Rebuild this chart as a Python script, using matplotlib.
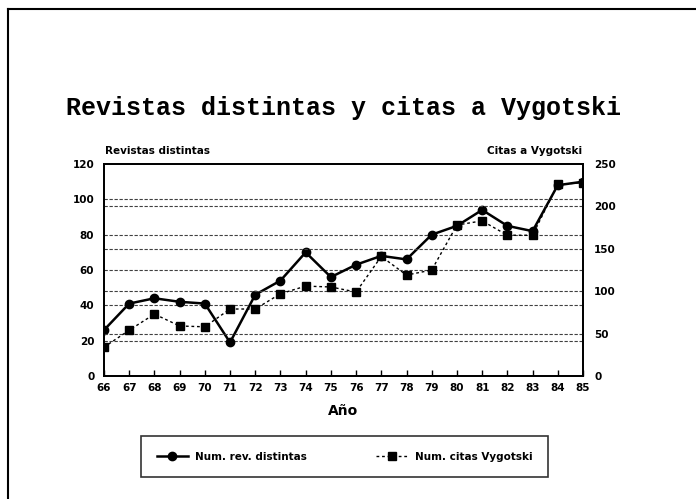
import matplotlib
matplotlib.use('Agg')
import matplotlib.pyplot as plt
from matplotlib.lines import Line2D

years = ['66', '67', '68', '69', '70', '71', '72', '73', '74', '75',
         '76', '77', '78', '79', '80', '81', '82', '83', '84', '85']
revistas = [26, 41, 44, 42, 41, 19, 46, 54, 70, 56,
            63, 68, 66, 80, 85, 94, 85, 82, 108, 110]
citas = [34, 54, 73, 59, 58, 79, 79, 97, 106, 105,
         99, 141, 119, 125, 178, 183, 166, 166, 226, 228]

left_ticks = [0, 20, 40, 60, 80, 100, 120]
right_ticks = [0, 50, 100, 150, 200, 250]

tick_font = dict(family='DejaVu Sans', weight='heavy', size=7.5)

fig = plt.figure(figsize=(6.96, 4.99), dpi=100)
ax = fig.add_axes([0.1494, 0.2465, 0.8376 - 0.1494, 0.6713 - 0.2465])
ax2 = ax.twinx()

x = list(range(len(years)))
l1, = ax.plot(x, revistas, color='black', lw=1.8, marker='o', ms=6,
              label='Num. rev. distintas', zorder=5)
l2, = ax2.plot(x, citas, color='black', lw=1.0, ls=(0, (2, 2)), marker='s', ms=5.5,
               label='Num. citas Vygotski', zorder=5)

ax.set_xlim(0, len(years) - 1)
ax.set_ylim(0, 120)
ax2.set_ylim(0, 250)
ax.set_xticks(x)
ax.set_xticklabels(years, **tick_font)
ax.set_yticks(left_ticks)
ax.set_yticklabels([str(t) for t in left_ticks], **tick_font)
ax2.set_yticks(right_ticks)
ax2.set_yticklabels([str(t) for t in right_ticks], **tick_font)

ax.tick_params(axis='x', direction='in', length=4, width=1, pad=5)
ax.tick_params(axis='y', length=0, pad=7)
ax2.tick_params(axis='y', length=0, pad=8)

# dotted grid lines from both scales
for t in left_ticks[1:-1]:
    ax.axhline(t, color='0.25', lw=0.8, ls=(0, (3, 1.5)), zorder=1)
for t in right_ticks[1:-1]:
    ax2.axhline(t, color='0.25', lw=0.8, ls=(0, (3, 1.5)), zorder=1)

for a in (ax, ax2):
    for s in a.spines.values():
        s.set_linewidth(1.3)

ax.set_xlabel('Año', family='DejaVu Sans', weight='heavy', size=10, labelpad=8)

fig.text(0.493, 0.783, 'Revistas distintas y citas a Vygotski', ha='center', va='center',
         family='Liberation Mono', weight='bold', size=18)
fig.text(105 / 696, 1 - 151 / 499, 'Revistas distintas', ha='left', va='center', **tick_font)
fig.text(582 / 696, 1 - 151 / 499, 'Citas a Vygotski', ha='right', va='center', **tick_font)

leg = fig.legend(handles=[l1, l2], loc='center', bbox_to_anchor=(0.495, 0.0846), ncol=2,
                 prop=dict(family='DejaVu Sans', weight='heavy', size=7.5),
                 frameon=True, fancybox=False, edgecolor='black', handlelength=3,
                 columnspacing=6.6, borderpad=1.5, borderaxespad=0, handletextpad=0.7)
leg.get_frame().set_linewidth(1.2)

# page frame
fig.add_artist(Line2D([8 / 696, 1], [1 - 9 / 499, 1 - 9 / 499], color='black', lw=1.5))
fig.add_artist(Line2D([8 / 696, 8 / 696], [0, 1 - 9 / 499], color='black', lw=1.5))

fig.savefig('out.png', dpi=100)
